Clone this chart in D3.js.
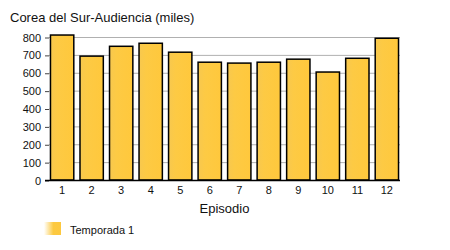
<!DOCTYPE html>
<html>
<head>
<meta charset="utf-8">
<script src="https://cdn.jsdelivr.net/npm/d3@7"></script>
<style>
  body { margin: 0; background: #fff; }
  svg { font-family: "Liberation Sans", Arial, sans-serif; }
</style>
</head>
<body>
<svg id="drawing_region"></svg>
<script>
// data
var episodes = ["1","2","3","4","5","6","7","8","9","10","11","12"];
var audience = [811, 693, 748, 765, 715, 659, 654, 659, 676, 604, 681, 793];
var yTicks = [0, 100, 200, 300, 400, 500, 600, 700, 800];
var seriesName = "Temporada 1";

var config = {
    width: 450,
    height: 250,
    margin: { top: 37, right: 50, bottom: 70, left: 49 }
};

var svg = d3.select("#drawing_region")
    .attr("width", config.width)
    .attr("height", config.height);

var defs = svg.append("defs");
var grad = defs.append("linearGradient").attr("id", "barfill")
    .attr("x1", "0%").attr("x2", "100%");
grad.append("stop").attr("offset", "0%").attr("stop-color", "#f7c84f");
grad.append("stop").attr("offset", "30%").attr("stop-color", "#fdca44");
grad.append("stop").attr("offset", "100%").attr("stop-color", "#ffc83c");

var lgrad = defs.append("linearGradient").attr("id", "legfill")
    .attr("x1", "0%").attr("x2", "100%");
lgrad.append("stop").attr("offset", "0%").attr("stop-color", "#ffffff");
lgrad.append("stop").attr("offset", "55%").attr("stop-color", "#fcc940");
lgrad.append("stop").attr("offset", "100%").attr("stop-color", "#fdc83e");

var inner_width = config.width - config.margin.left - config.margin.right;
var inner_height = 180 - config.margin.top;

var chart = svg.append("g")
    .attr("transform", `translate(${config.margin.left}, ${config.margin.top})`);

var xscale = d3.scaleBand()
    .domain(episodes)
    .range([0, inner_width])
    .paddingInner(0.21)
    .paddingOuter(0.05);

var yscale = d3.scaleLinear()
    .domain([0, 800])
    .range([inner_height, 0]);

// gridlines
chart.append("g")
    .selectAll("line")
    .data(yTicks.filter(d => d > 0))
    .enter()
    .append("line")
    .attr("x1", 0)
    .attr("x2", inner_width)
    .attr("y1", d => yscale(d) + 0.5)
    .attr("y2", d => yscale(d) + 0.5)
    .attr("stroke", "#b0b0b0")
    .attr("stroke-width", 1);

// y axis
var yaxis = d3.axisLeft(yscale)
    .tickValues(yTicks)
    .tickSize(4)
    .tickPadding(4);
var yaxis_group = chart.append("g")
    .attr("transform", "translate(0,0.5)")
    .call(yaxis);
yaxis_group.select(".domain").remove();
yaxis_group.selectAll("line").attr("stroke", "#444");
yaxis_group.selectAll("text")
    .attr("font-size", "11px")
    .attr("fill", "#111")
    .attr("font-family", "Liberation Sans, Arial, sans-serif");

// bars
chart.selectAll("rect.bar")
    .data(audience)
    .enter()
    .append("rect")
    .attr("class", "bar")
    .attr("x", (d, i) => xscale(episodes[i]))
    .attr("y", d => yscale(d))
    .attr("width", xscale.bandwidth())
    .attr("height", d => inner_height - yscale(d))
    .attr("fill", "url(#barfill)")
    .attr("stroke", "#000")
    .attr("stroke-width", 1.5);

// x axis
var xaxis = d3.axisBottom(xscale)
    .tickSize(0)
    .tickPadding(6);
var xaxis_group = chart.append("g")
    .attr("transform", `translate(0, ${inner_height})`)
    .call(xaxis);
xaxis_group.select(".domain")
    .attr("d", `M-4,0.5H${inner_width}`)
    .attr("stroke", "#000")
    .attr("stroke-width", 1.5);
xaxis_group.selectAll("text")
    .attr("font-size", "11px")
    .attr("fill", "#111")
    .attr("font-family", "Liberation Sans, Arial, sans-serif");

// title
svg.append("text")
    .attr("x", 10)
    .attr("y", 22)
    .attr("font-size", "13px")
    .attr("fill", "#111")
    .text("Corea del Sur-Audiencia (miles)");

// x axis label
svg.append("text")
    .attr("x", config.margin.left + inner_width / 2)
    .attr("y", 213)
    .attr("text-anchor", "middle")
    .attr("font-size", "13px")
    .attr("fill", "#111")
    .text("Episodio");

// legend
svg.append("rect")
    .attr("x", 44)
    .attr("y", 222)
    .attr("width", 17)
    .attr("height", 13)
    .attr("fill", "url(#legfill)");
svg.append("text")
    .attr("x", 70)
    .attr("y", 234)
    .attr("font-size", "11px")
    .attr("fill", "#111")
    .text(seriesName);
</script>
</body>
</html>
